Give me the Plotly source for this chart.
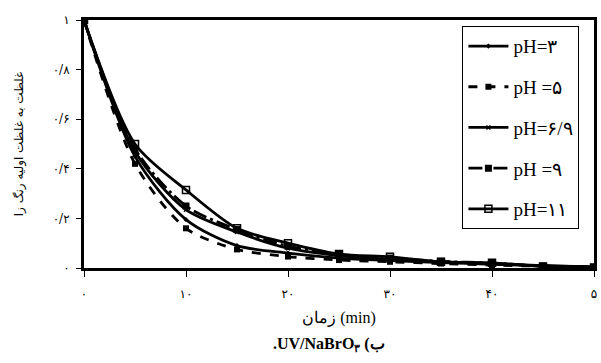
import plotly.graph_objects as go

# Sampling times (min)
time_min = [0, 5, 10, 15, 20, 25, 30, 35, 40, 45, 50]

# Relative dye concentration C/C0 for each pH
c_ph3 = [1.0, 0.45, 0.195, 0.09, 0.06, 0.04, 0.03, 0.022, 0.015, 0.009, 0.004]
c_ph5 = [1.0, 0.42, 0.16, 0.075, 0.046, 0.032, 0.025, 0.018, 0.012, 0.007, 0.003]
c_ph69 = [1.0, 0.47, 0.235, 0.145, 0.08, 0.05, 0.035, 0.025, 0.018, 0.009, 0.004]
c_ph9 = [1.0, 0.48, 0.25, 0.155, 0.088, 0.055, 0.04, 0.027, 0.02, 0.008, 0.003]
c_ph11 = [1.0, 0.50, 0.315, 0.16, 0.10, 0.056, 0.045, 0.025, 0.021, 0.006, 0.002]

legend_names = ["pH=۳", "pH =۵", "pH=۶/۹", "pH =۹", "pH=۱۱"]

x_tick_vals = [0, 10, 20, 30, 40, 50]
x_tick_text = ["۰", "۱۰", "۲۰", "۳۰", "۴۰", "۵"]
y_tick_vals = [0, 0.2, 0.4, 0.6, 0.8, 1.0]
y_tick_text = ["۰", "۰/۲", "۰/۴", "۰/۶", "۰/۸", "۱"]

series = [
    (c_ph3, dict(width=2.8, dash="solid"), dict(symbol="diamond", size=4)),
    (c_ph5, dict(width=2.8, dash="dash"), dict(symbol="square", size=6)),
    (c_ph69, dict(width=2.8, dash="solid"), dict(symbol="x-thin", size=4, line=dict(width=1.5, color="black"))),
    (c_ph9, dict(width=2.8, dash="14px,4px,3px,4px"), dict(symbol="square", size=7)),
    (c_ph11, dict(width=2.8, dash="solid"), dict(symbol="square-open", size=7, line=dict(width=1.5, color="black"))),
]

fig = go.Figure()
for i, ((vals, line, marker), name) in enumerate(zip(series, legend_names)):
    fig.add_trace(go.Scatter(
        x=time_min, y=vals, name=name, mode="lines+markers",
        line=dict(color="black", shape="spline", smoothing=0.8, **line),
        marker=dict(color="black", **marker),
        legendgroup=f"g{i}",
    ))

serif = "Liberation Serif, DejaVu Serif, serif"

fig.update_layout(
    width=601, height=363,
    margin=dict(l=84, r=4, t=20, b=95),
    paper_bgcolor="white", plot_bgcolor="white",
    font=dict(family=serif, color="black"),
    showlegend=True,
    legend=dict(
        x=0.742, y=0.975, xanchor="left", yanchor="top",
        bgcolor="white", bordercolor="black", borderwidth=1,
        font=dict(family=serif, size=19, color="black"),
        tracegroupgap=13, itemwidth=40,
    ),
    xaxis=dict(
        range=[0, 50], tickvals=x_tick_vals, ticktext=x_tick_text,
        showgrid=False, zeroline=False,
        showline=True, linecolor="black", linewidth=3, mirror=True,
        ticks="outside", ticklen=6, tickwidth=1, tickcolor="black",
        ticklabelstandoff=7,
        tickfont=dict(family="DejaVu Serif, DejaVu Sans", size=12),
        title=dict(text="زمان (min)", font=dict(family=serif, size=16), standoff=12),
    ),
    yaxis=dict(
        range=[0, 1], tickvals=y_tick_vals, ticktext=y_tick_text,
        showgrid=False, zeroline=False,
        showline=True, linecolor="black", linewidth=3, mirror=True,
        ticks="outside", ticklen=5, tickwidth=1, tickcolor="black",
        ticklabelstandoff=4,
        tickfont=dict(family="DejaVu Serif, DejaVu Sans", size=12),
        title=dict(text="غلظت به غلظت اولیه رنگ زا", font=dict(family="DejaVu Sans", size=12), standoff=27),
    ),
    annotations=[
        dict(
            # left-to-right override keeps the caption glyphs in the typed order
            text="\u202d.UV/NaBrO<sub>۳</sub> (ب\u202c",
            xref="paper", yref="paper", x=0.48, y=-0.31,
            xanchor="center", yanchor="middle", showarrow=False,
            font=dict(family=serif, size=16, color="black", weight="bold"),
        )
    ],
)

fig.write_html("out.html")
